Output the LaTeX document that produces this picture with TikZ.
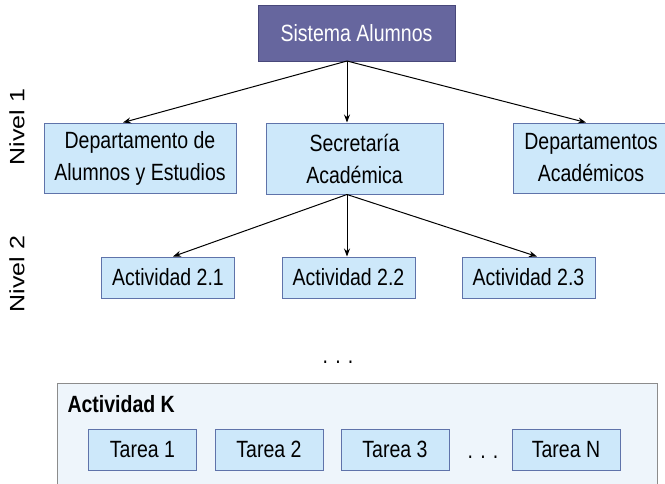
\documentclass[tikz,border=0pt]{standalone}
\usepackage{fontspec}
\setmainfont{Liberation Sans}[FakeStretch=0.83]
\newfontfamily\nivelfont{Liberation Sans}
\usetikzlibrary{arrows.meta}
\definecolor{cajaazul}{RGB}{205,232,250}
\definecolor{bordeazul}{RGB}{95,115,170}
\definecolor{sistema}{RGB}{102,102,158}
\definecolor{sistemaborde}{RGB}{72,72,122}
\definecolor{fondoK}{RGB}{238,245,251}
\definecolor{bordeK}{RGB}{140,140,140}
\begin{document}
\begin{tikzpicture}[x=1pt, y=-1pt,
  every node/.style = {font=\fontsize{23.5}{32}\selectfont, align=center},
  caja/.style = {draw=bordeazul, fill=cajaazul, line width=1pt, inner sep=0pt},
  actividad/.style = {caja, minimum width=133pt, minimum height=41pt},
  tarea/.style = {caja, minimum width=108pt, minimum height=41pt},
  nivel/.style = {rotate=90, font=\nivelfont\fontsize{25}{30}\selectfont},
  flecha/.style = {-{Stealth[length=8pt,width=6pt]}, line width=1pt}]
  \clip (0,0) rectangle (665,483);
  \fill[white] (0,0) rectangle (665,483);

  \node[caja, fill=sistema, draw=sistemaborde, text=white,
    minimum width=197pt, minimum height=56pt] (sis) at (356.5,33) {Sistema Alumnos};

  \node[caja, minimum width=192pt, minimum height=70pt] (dep) at (140,158)
    {Departamento de\\Alumnos y Estudios};
  \node[caja, minimum width=177pt, minimum height=71pt] (sec) at (354.5,158.5)
    {Secretar\'ia\\Acad\'emica};
  \node[caja, minimum width=156pt, minimum height=70pt] (deps) at (591,158)
    {Departamentos\\Acad\'emicos};

  \node[actividad] (a21) at (168,277.5) {Actividad 2.1};
  \node[actividad] (a22) at (348.5,277.5) {Actividad 2.2};
  \node[actividad] (a23) at (528.5,277.5) {Actividad 2.3};

  \node[nivel] (niv1) at (17,127) {\scalebox{1}[0.83]{Nivel 1}};
  \node[nivel] (niv2) at (17,274) {\scalebox{1}[0.83]{Nivel 2}};

  \node (pts1) at (338,362) {. . .};

  \node[draw=bordeK, fill=fondoK, line width=1pt, anchor=north west,
    minimum width=600pt, minimum height=130pt] (actk) at (57,383) {};
  \node[anchor=west, font=\bfseries\fontsize{23.5}{32}\selectfont] (actkt) at (64,404) {Actividad K};
  \node[tarea] (t1) at (142.5,449.5) {Tarea 1};
  \node[tarea] (t2) at (269,449.5) {Tarea 2};
  \node[tarea] (t3) at (395,449.5) {Tarea 3};
  \node (pts2) at (483,457) {. . .};
  \node[tarea] (tn) at (566,449.5) {Tarea N};

  \coordinate (o1) at (347,61);
  \coordinate (o2) at (o1 |- sec.south);
  \draw[flecha] (o1) -- ([xshift=-17pt]dep.north);
  \draw[flecha] (o1) -- (o1 |- sec.north);
  \draw[flecha] (o1) -- ([xshift=-5pt]deps.north);
  \draw[flecha] (o2) -- ([xshift=5pt]a21.north);
  \draw[flecha] (o2) -- (o2 |- a22.north);
  \draw[flecha] (o2) -- ([xshift=8.5pt]a23.north);
\end{tikzpicture}
\end{document}
